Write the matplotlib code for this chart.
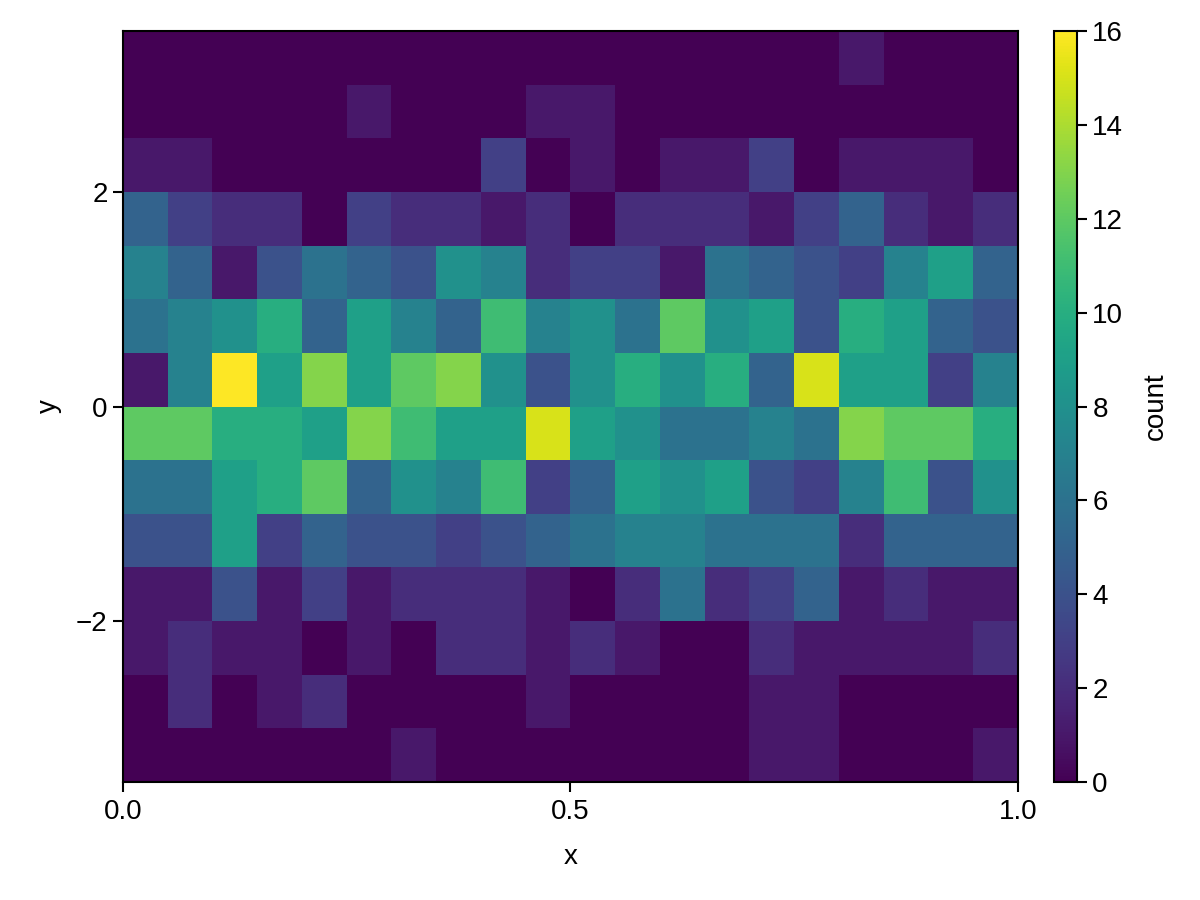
import numpy as np
import matplotlib
matplotlib.use("Agg")
import matplotlib.pyplot as plt

plt.rcParams.update({
    "font.family": ["Liberation Sans", "DejaVu Sans"],
    "font.size": 20,
    "axes.linewidth": 1.5,
    "xtick.major.width": 1.5, "ytick.major.width": 1.5,
    "xtick.major.size": 7, "ytick.major.size": 7,
    "xtick.major.pad": 5, "ytick.major.pad": 4,
})

# bin edges
x_edges = np.linspace(0.0, 1.0, 21)
y_edges = np.linspace(-3.5, 3.5, 15)

# counts, rows from y=-3.5 (bottom) to y=3.5 (top), 20 x-bins each
row_m35 = [0, 0, 0, 0, 0, 0, 1, 0, 0, 0, 0, 0, 0, 0, 1, 1, 0, 0, 0, 1]
row_m30 = [0, 2, 0, 1, 2, 0, 0, 0, 0, 1, 0, 0, 0, 0, 1, 1, 0, 0, 0, 0]
row_m25 = [1, 2, 1, 1, 0, 1, 0, 2, 2, 1, 2, 1, 0, 0, 2, 1, 1, 1, 1, 2]
row_m20 = [1, 1, 4, 1, 3, 1, 2, 2, 2, 1, 0, 2, 6, 2, 3, 5, 1, 2, 1, 1]
row_m15 = [4, 4, 9, 3, 5, 4, 4, 3, 4, 5, 6, 7, 7, 6, 6, 6, 2, 5, 5, 5]
row_m10 = [6, 6, 9, 10, 12, 5, 8, 7, 11, 3, 5, 9, 8, 9, 4, 3, 7, 11, 4, 8]
row_m05 = [12, 12, 10, 10, 9, 13, 11, 9, 9, 15, 9, 8, 6, 6, 7, 6, 13, 12, 12, 10]
row_p00 = [1, 7, 16, 9, 13, 9, 12, 13, 8, 4, 8, 10, 8, 10, 5, 15, 9, 9, 3, 7]
row_p05 = [6, 7, 8, 10, 5, 9, 7, 5, 11, 7, 8, 6, 12, 8, 9, 4, 10, 9, 5, 4]
row_p10 = [7, 5, 1, 4, 6, 5, 4, 8, 7, 2, 3, 3, 1, 6, 5, 4, 3, 7, 9, 5]
row_p15 = [5, 3, 2, 2, 0, 3, 2, 2, 1, 2, 0, 2, 2, 2, 1, 3, 5, 2, 1, 2]
row_p20 = [1, 1, 0, 0, 0, 0, 0, 0, 3, 0, 1, 0, 1, 1, 3, 0, 1, 1, 1, 0]
row_p25 = [0, 0, 0, 0, 0, 1, 0, 0, 0, 1, 1, 0, 0, 0, 0, 0, 0, 0, 0, 0]
row_p30 = [0, 0, 0, 0, 0, 0, 0, 0, 0, 0, 0, 0, 0, 0, 0, 0, 1, 0, 0, 0]

counts = np.array([row_m35, row_m30, row_m25, row_m20, row_m15, row_m10, row_m05,
                   row_p00, row_p05, row_p10, row_p15, row_p20, row_p25, row_p30])

fig = plt.figure(figsize=(12, 9), dpi=100)
ax = fig.add_axes([0.1025, 0.1311, 0.7458, 0.8344])
cax = fig.add_axes([0.8783, 0.1311, 0.0192, 0.8344])

mesh = ax.pcolormesh(x_edges, y_edges, counts, cmap="viridis", vmin=0, vmax=16)
ax.set_xlim(0, 1)
ax.set_ylim(-3.5, 3.5)
ax.set_xticks([0.0, 0.5, 1.0])
ax.set_xticklabels(["0.0", "0.5", "1.0"])
ax.set_yticks([-2, 0, 2])
ax.set_yticklabels(["\u22122", "0", "2"])
ax.set_xlabel("x", labelpad=14)
ax.set_ylabel("y", labelpad=10)

cb = fig.colorbar(mesh, cax=cax)
cb.set_ticks([0, 2, 4, 6, 8, 10, 12, 14, 16])
cb.set_label("count", labelpad=14)
cb.outline.set_linewidth(1.5)

fig.savefig("out.png")
